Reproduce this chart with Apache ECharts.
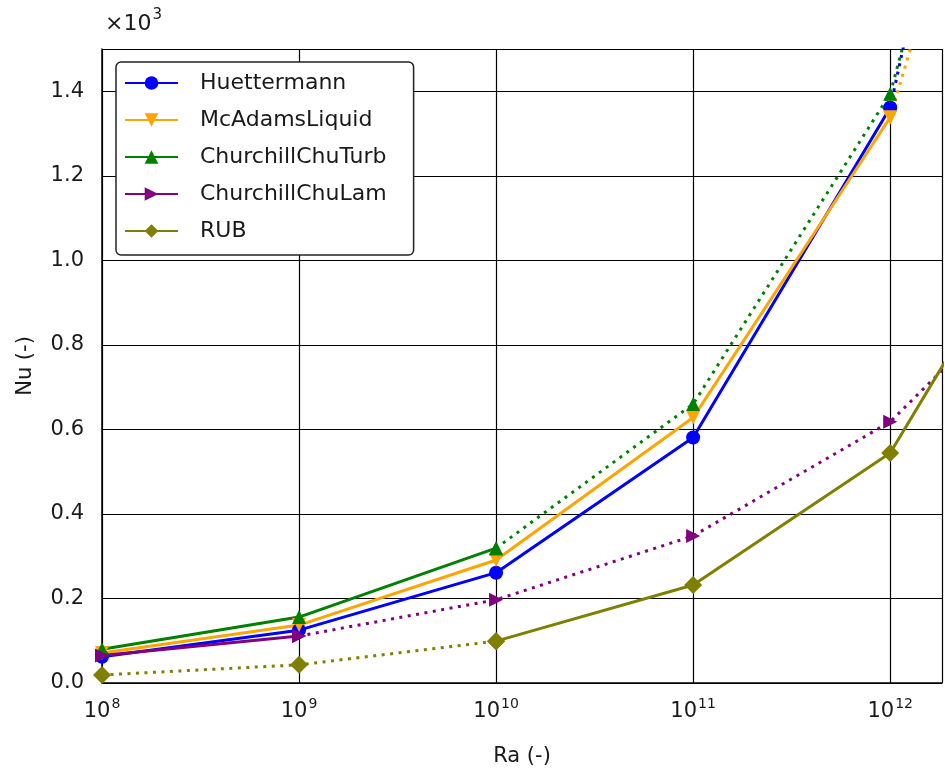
<!DOCTYPE html>
<html>
<head>
<meta charset="utf-8">
<script src="https://cdn.jsdelivr.net/npm/echarts@6/dist/echarts.min.js"></script>
<style>
html,body{margin:0;padding:0;background:#fff;}
#chart{width:945px;height:776px;}
</style>
</head>
<body>
<div id="chart"></div>
<script>
// Rayleigh number (x) and Nusselt number (y) per correlation
const ra = [1e8, 1e9, 1e10, 1e11, 1e12, 1e13];
const huettermann = [62, 125, 261, 581, 1361, 3510];
const mcAdamsLiquid = [71, 137, 291, 628, 1338, 2920];
const churchillChuTurb = [80, 156, 319, 660, 1394, 3130];
const churchillChuLam = [65, 111, 197, 348, 618, 1080];
const rub = [19, 43, 99, 232, 544, 1320];
const yTicks = [0, 200, 400, 600, 800, 1000, 1200, 1400];
const xExponents = [8, 9, 10, 11, 12];

const FONT = '"DejaVu Sans", sans-serif';
const TXT = '#1a1a1a';

const defs = [
  {name:'Huettermann', v:huettermann, color:'#0000ff', symbol:'circle', size:14, rot:0, solid:[0,4], dotted:[4,5]},
  {name:'McAdamsLiquid', v:mcAdamsLiquid, color:'#ffa500', symbol:'triangle', size:14, rot:180, solid:[0,4], dotted:[4,5]},
  {name:'ChurchillChuTurb', v:churchillChuTurb, color:'#008000', symbol:'triangle', size:14, rot:0, solid:[0,2], dotted:[2,5]},
  {name:'ChurchillChuLam', v:churchillChuLam, color:'#800080', symbol:'triangle', size:14, rot:-90, solid:[0,1], dotted:[1,5]},
  {name:'RUB', v:rub, color:'#808000', symbol:'diamond', size:18, rot:0, solid:[2,5], dotted:[0,2]}
];

// x axis is the decade exponent of Ra (log10 scale)
function seg(d, r){
  const out = [];
  for (let i = r[0]; i <= r[1]; i++) out.push([Math.log10(ra[i]), d.v[i]]);
  return out;
}

const series = [];
defs.forEach(function(d){
  ['solid','dotted'].forEach(function(kind){
    series.push({
      name: d.name,
      type: 'line',
      data: seg(d, d[kind]),
      symbol: d.symbol,
      symbolSize: d.size,
      symbolRotate: d.rot,
      showAllSymbol: true,
      clip: true,
      itemStyle: {color: d.color},
      lineStyle: {color: d.color, width: 3, type: kind === 'solid' ? 'solid' : [3, 5.5], cap: 'butt'},
      emphasis: {disabled: true},
      animation: false
    });
  });
});

const chart = echarts.init(document.getElementById('chart'), null, {renderer:'canvas'});
chart.setOption({
  animation: false,
  backgroundColor: '#fff',
  grid: {left: 102, right: -3, top: 49, bottom: 93, containLabel: false},
  xAxis: {
    type: 'value',
    min: 8,
    max: 12.263,
    interval: 1,
    name: 'Ra (-)',
    nameLocation: 'middle',
    nameGap: 63,
    nameTextStyle: {fontFamily: FONT, fontSize: 21, color: TXT},
    axisLine: {show: true, onZero: false, lineStyle: {color: '#000', width: 1.5}},
    axisTick: {show: false},
    splitLine: {show: true, lineStyle: {color: '#000', width: 1.2}},
    axisLabel: {
      margin: 14,
      formatter: function(v){
        const e = Math.round(v);
        if (Math.abs(v - e) > 1e-6 || xExponents.indexOf(e) < 0) return '';
        return '{b|10}{s|' + e + '}';
      },
      rich: {
        b: {fontFamily: FONT, fontSize: 21, color: TXT},
        s: {fontFamily: FONT, fontSize: 14, color: TXT, padding: [0, 0, 16, 1]}
      }
    }
  },
  yAxis: {
    type: 'value',
    min: 0,
    max: 1500,
    interval: 200,
    name: 'Nu (-)',
    nameLocation: 'middle',
    nameGap: 66,
    nameTextStyle: {fontFamily: FONT, fontSize: 21, color: TXT},
    axisLine: {show: true, lineStyle: {color: '#000', width: 1.5}},
    axisTick: {show: false},
    splitLine: {show: true, lineStyle: {color: '#000', width: 1.2}},
    axisLabel: {
      margin: 18,
      fontFamily: FONT, fontSize: 21, color: TXT,
      formatter: function(v){
        return yTicks.indexOf(v) >= 0 ? (v/1000).toFixed(1) : '';
      }
    }
  },
  legend: {
    orient: 'vertical',
    left: 116,
    top: 62,
    data: defs.map(function(d){ return d.name; }),
    itemWidth: 53,
    itemHeight: 17,
    itemGap: 13,
    padding: [9, 27, 12, 8],
    backgroundColor: '#fff',
    borderColor: '#222',
    borderWidth: 1.5,
    borderRadius: 5,
    selectedMode: false,
    textStyle: {fontFamily: FONT, fontSize: 22, color: TXT, lineHeight: 24, padding: [0, 0, 0, 17]}
  },
  graphic: [{
    type: 'text',
    left: 105,
    top: 8,
    style: {
      text: '{a|×10}{s|3}',
      rich: {
        a: {fontFamily: FONT, fontSize: 22, fill: TXT},
        s: {fontFamily: FONT, fontSize: 15, fill: TXT, padding: [0, 0, 17, 1]}
      }
    }
  }],
  series: series
});
</script>
</body>
</html>
